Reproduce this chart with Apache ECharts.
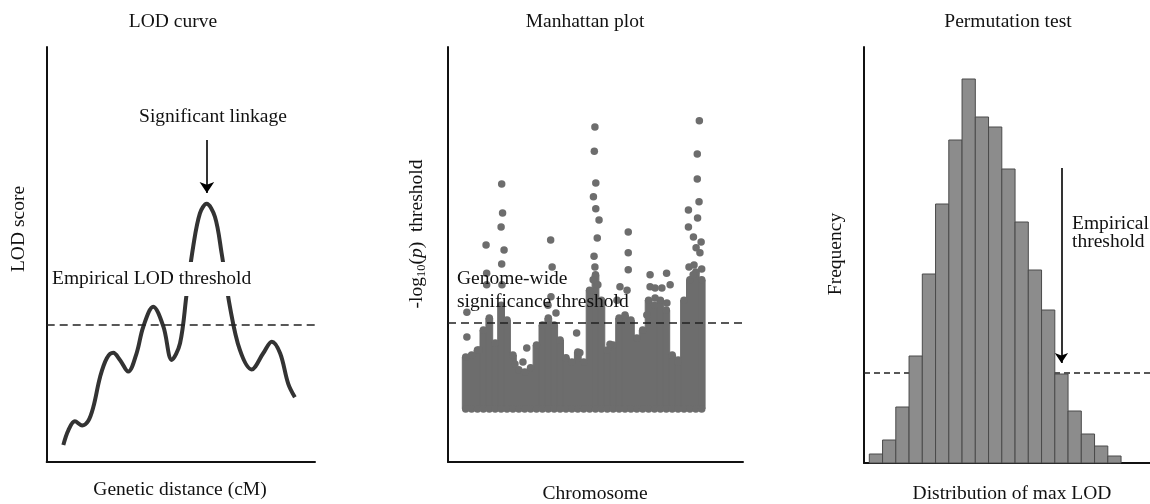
<!DOCTYPE html>
<html lang="en">
<head>
<meta charset="utf-8">
<title>LOD curve / Manhattan plot / Permutation test</title>
<script src="https://cdn.jsdelivr.net/npm/echarts@6/dist/echarts.min.js"></script>
<style>
html, body { margin: 0; padding: 0; background: #fff; }
#main { width: 1150px; height: 504px; }
</style>
</head>
<body>
<div id="main"></div>
<script>
// LOD curve: position (cM) and LOD score
var lodPos = [6.2, 8.1, 10.5, 13.2, 15.4, 17.4, 19.9, 22.4, 24.8, 27.3, 30.4, 33.5, 36.0, 39.7, 43.5, 46.6, 49.7, 52.2, 54.6, 57.1, 59.6, 62.7, 65.2, 68.3, 72.0, 76.4, 80.7, 83.9, 87.0, 90.0, 92.5];
var lodScore = [0.41, 0.77, 0.98, 0.88, 0.98, 1.33, 2.05, 2.50, 2.63, 2.46, 2.18, 2.62, 3.26, 3.74, 3.26, 2.46, 2.86, 4.07, 5.19, 5.99, 6.22, 5.91, 5.03, 3.74, 2.70, 2.23, 2.62, 2.90, 2.62, 1.89, 1.56];
var lodThreshold = 3.3;
var linkageArrow = [59.7, 7.76, 6.48]; // x, from, to

// Manhattan plot: dense mass by column (top of the mass) + single dots above it
var snpCols = [6, 8, 10, 12, 14, 16, 18, 20, 22, 24, 26, 28, 30, 32, 34, 36, 38, 40, 42, 44, 46, 48, 50, 52, 54, 56, 58, 60, 62, 64, 66, 68, 70, 72, 74, 76, 78, 80, 82, 84, 86];
var snpColTop = [2.53, 2.58, 2.70, 3.18, 3.47, 2.87, 3.78, 3.42, 2.58, 2.22, 2.17, 2.27, 2.82, 3.30, 3.47, 3.30, 2.94, 2.51, 2.41, 2.65, 2.41, 4.14, 4.51, 3.90, 2.70, 2.82, 3.47, 3.54, 3.42, 2.99, 3.18, 3.90, 3.78, 3.90, 3.66, 2.58, 2.46, 3.90, 4.39, 4.58, 4.39];
var snpBase = 1.28;
var snpX = [12.9, 13.1, 13.1, 6.4, 6.4, 10.5, 18.2, 18.5, 18.0, 19.0, 18.2, 18.3, 22.7, 25.4, 26.7, 34.8, 35.3, 34.9, 33.9, 36.6, 43.6, 44.7, 49.8, 49.6, 50.1, 49.3, 50.1, 51.2, 50.6, 49.5, 49.8, 49.2, 50.8, 54.9, 58.3, 57.3, 61.1, 61.1, 61.1, 60.7, 68.5, 74.1, 68.5, 70.2, 72.5, 75.3, 67.4, 70.2, 74.2, 77.9, 85.2, 84.5, 84.5, 85.1, 81.5, 84.6, 81.5, 83.2, 85.8, 84.1, 85.4, 81.7, 86.0, 83.4, 83.1];
var snpY = [5.23, 4.55, 4.27, 3.61, 3.01, 2.70, 6.70, 6.00, 5.66, 5.11, 4.77, 4.27, 2.36, 2.41, 2.75, 5.35, 4.70, 3.98, 3.78, 3.59, 3.11, 2.63, 8.07, 7.49, 6.72, 6.39, 6.10, 5.83, 5.40, 4.96, 4.70, 4.39, 4.27, 2.84, 4.22, 3.90, 5.54, 5.04, 4.63, 4.14, 4.51, 4.55, 4.22, 4.19, 4.19, 4.27, 3.54, 3.95, 3.83, 2.41, 8.22, 7.42, 6.82, 6.27, 6.07, 5.88, 5.66, 5.42, 5.30, 5.16, 5.04, 4.70, 4.65, 4.75, 4.51];
var gwThreshold = 3.35;

// permutation test histogram
var lodBins = [1, 2, 3, 4, 5, 6, 7, 8, 9, 10, 11, 12, 13, 14, 15, 16, 17, 18, 19];
var binCounts = [9, 23, 56, 107, 189, 259, 323, 384, 346, 336, 294, 241, 193, 153, 89, 52, 29, 17, 7];
var permThreshold = 90;
var permArrow = [15, 295, 100];

var FONT = '"Liberation Serif", "Times New Roman", serif';
var dotColor = '#6d6d6d';
var permMin = 0.1, permMax = 21.685;

function axisCommon(idx, min, max) {
	return {
		type: 'value', gridIndex: idx, min: min, max: max,
		axisLine: { show: true, onZero: false, lineStyle: { color: '#111', width: 2 } },
		axisTick: { show: false }, axisLabel: { show: false }, splitLine: { show: false }
	};
}

function txt(x, y, text, opts) {
	opts = opts || {};
	return {
		type: 'text', x: x, y: y, z: 100, rotation: opts.rotation || 0,
		style: {
			text: text, fill: '#111', font: '19.5px ' + FONT,
			textAlign: opts.align || 'center', textVerticalAlign: 'middle',
			backgroundColor: opts.bg, padding: opts.bg ? [7, 3] : 0
		}
	};
}

var lodData = lodPos.map(function (x, i) { return [x, lodScore[i]]; });
var colData = snpCols.map(function (x, i) { return [x, snpColTop[i]]; });
var colBases = snpCols.map(function (x) { return [x, snpBase]; });
var dotData = snpX.map(function (x, i) { return [x, snpY[i]]; });
var histData = lodBins.map(function (x, i) { return [x, binCounts[i]]; });

var myChart = echarts.init(document.getElementById('main'));

var option = {
	animation: false,
	backgroundColor: '#fff',
	grid: [
		{ left: 46.7, top: 47, width: 268.3, height: 415 },
		{ left: 448, top: 47, width: 295, height: 415 },
		{ left: 864, top: 47, width: 286, height: 416 }
	],
	xAxis: [axisCommon(0, 0, 100), axisCommon(1, 0, 100), axisCommon(2, permMin, permMax)],
	yAxis: [axisCommon(0, 0, 10), axisCommon(1, 0, 10), axisCommon(2, 0, 416)],
	series: [
		{
			type: 'line', xAxisIndex: 0, yAxisIndex: 0, data: lodData,
			smooth: 0.35, symbol: 'none', z: 2,
			lineStyle: { color: '#333', width: 4 },
			markLine: {
				silent: true, symbol: 'none', label: { show: false },
				lineStyle: { color: '#222', width: 1.5, type: [8, 5] },
				data: [
					{ yAxis: lodThreshold },
					[
						{ coord: [linkageArrow[0], linkageArrow[1]], symbol: 'none', lineStyle: { type: 'solid', color: '#000', width: 1.6 } },
						{ coord: [linkageArrow[0], linkageArrow[2]], symbol: 'arrow', symbolSize: 11 }
					]
				]
			}
		},
		{
			// solid body of the SNP cloud, one column per position
			type: 'custom', xAxisIndex: 1, yAxisIndex: 1, data: colData, z: 2,
			encode: { x: 0, y: 1 },
			renderItem: function (params, api) {
				var x = api.value(0), top = api.value(1);
				var p0 = api.coord([x - 1.15, snpBase]);
				var p1 = api.coord([x + 1.15, top]);
				return {
					type: 'rect',
					shape: { x: p0[0], y: p1[1], width: p1[0] - p0[0], height: p0[1] - p1[1] },
					style: { fill: dotColor, stroke: dotColor, lineWidth: 1 }
				};
			}
		},
		{
			type: 'scatter', xAxisIndex: 1, yAxisIndex: 1, data: colData.concat(colBases), z: 3,
			symbolSize: 7.5, itemStyle: { color: dotColor, opacity: 1 }
		},
		{
			type: 'scatter', xAxisIndex: 1, yAxisIndex: 1, data: dotData, z: 3,
			symbolSize: 7.5, itemStyle: { color: dotColor, opacity: 1 },
			markLine: {
				silent: true, symbol: 'none', label: { show: false },
				lineStyle: { color: '#222', width: 1.5, type: [8, 5] },
				data: [{ yAxis: gwThreshold }]
			}
		},
		{
			type: 'line', xAxisIndex: 2, yAxisIndex: 2, z: 1, symbol: 'none',
			data: [[permMin, permThreshold], [permMax, permThreshold]],
			lineStyle: { color: '#222', width: 1.3, type: [6, 4] }
		},
		{
			type: 'custom', xAxisIndex: 2, yAxisIndex: 2, data: histData, z: 2,
			encode: { x: 0, y: 1 },
			renderItem: function (params, api) {
				var x = api.value(0), h = api.value(1);
				var p0 = api.coord([x - 0.5, 0]);
				var p1 = api.coord([x + 0.5, h]);
				return {
					type: 'rect',
					shape: { x: p0[0], y: p1[1], width: p1[0] - p0[0], height: p0[1] - p1[1] },
					style: { fill: '#8c8c8c', stroke: '#4a4a4a', lineWidth: 1 }
				};
			},
			markLine: {
				silent: true, symbol: 'none', label: { show: false },
				data: [[
					{ coord: [permArrow[0], permArrow[1]], symbol: 'none', lineStyle: { type: 'solid', color: '#000', width: 1.6 } },
					{ coord: [permArrow[0], permArrow[2]], symbol: 'arrow', symbolSize: 10 }
				]]
			}
		}
	],
	graphic: [
		txt(173, 21.5, 'LOD curve'),
		txt(585, 21.5, 'Manhattan plot'),
		txt(1008, 21.5, 'Permutation test'),
		txt(180, 490, 'Genetic distance (cM)'),
		txt(595, 493.5, 'Chromosome'),
		txt(1012, 493.5, 'Distribution of max LOD'),
		txt(18.5, 229, 'LOD score', { rotation: Math.PI / 2 }),
		txt(836, 254, 'Frequency', { rotation: Math.PI / 2 }),
		txt(213, 117, 'Significant linkage'),
		txt(49, 279, 'Empirical LOD threshold', { align: 'left', bg: '#fff' }),
		txt(457, 278.5, 'Genome-wide', { align: 'left' }),
		txt(457, 302, 'significance threshold', { align: 'left' }),
		txt(1072, 223.5, 'Empirical', { align: 'left' }),
		txt(1072, 242, 'threshold', { align: 'left' }),
		{
			type: 'text', x: 417, y: 234, z: 100, rotation: Math.PI / 2,
			style: {
				text: '-log{s|10}({i|p})  threshold',
				fill: '#111', fontSize: 19.5, fontFamily: FONT, lineHeight: 22,
				textAlign: 'center', textVerticalAlign: 'middle',
				rich: {
					s: { fontSize: 12.5, fontFamily: FONT, fill: '#111', verticalAlign: 'bottom', lineHeight: 14 },
					i: { fontSize: 19.5, fontFamily: FONT, fontStyle: 'italic', fill: '#111', lineHeight: 22 }
				}
			}
		}
	]
};

myChart.setOption(option);
</script>
</body>
</html>
